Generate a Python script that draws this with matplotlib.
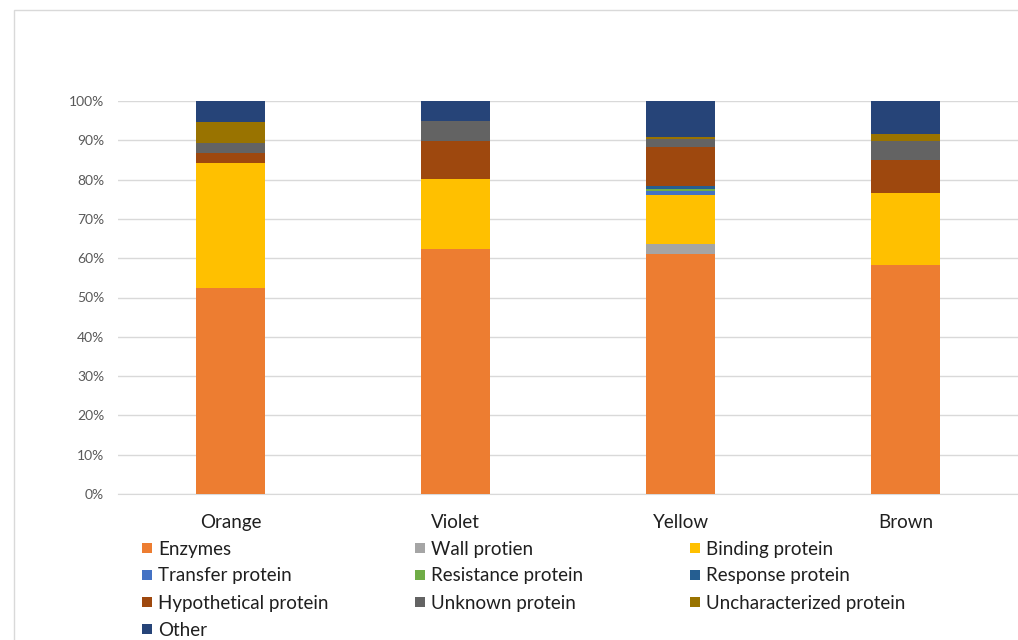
import numpy as np
import matplotlib.pyplot as plt
from matplotlib.patches import Rectangle
from matplotlib.ticker import PercentFormatter

plt.rcParams['font.family'] = ['Lato', 'DejaVu Sans']

# samples on the x axis
samples = ['Orange', 'Violet', 'Yellow', 'Brown']

# share of each protein class per sample (%)
enzymes          = [52.4, 62.3, 61.1, 58.3]
wall_protein     = [0.0, 0.0, 2.5, 0.0]
binding_protein  = [31.8, 17.8, 12.4, 18.2]
transfer_protein = [0.0, 0.0, 1.0, 0.0]
resistance_prot  = [0.0, 0.0, 0.6, 0.0]
response_protein = [0.0, 0.0, 0.8, 0.0]
hypothetical     = [2.5, 9.8, 10.0, 8.4]
unknown_protein  = [2.7, 5.1, 1.9, 5.0]
uncharacterized  = [5.3, 0.0, 0.6, 1.7]
other            = [5.3, 5.0, 9.1, 8.4]

series = [
    ('Enzymes', enzymes, '#ED7D31'),
    ('Wall protien', wall_protein, '#A5A5A5'),
    ('Binding protein', binding_protein, '#FFC000'),
    ('Transfer protein', transfer_protein, '#4472C4'),
    ('Resistance protein', resistance_prot, '#70AD47'),
    ('Response protein', response_protein, '#255E91'),
    ('Hypothetical protein', hypothetical, '#9E480E'),
    ('Unknown protein', unknown_protein, '#636363'),
    ('Uncharacterized protein', uncharacterized, '#997300'),
    ('Other', other, '#264478'),
]

W, H = 1018, 640
fig = plt.figure(figsize=(W / 100, H / 100), dpi=100)
ax = fig.add_axes([118 / W, 146 / H, 900 / W, 393 / H])

x = np.arange(len(samples))
totals = np.sum([s[1] for s in series], axis=0)
bottom = np.zeros(len(samples))
for name, vals, color in series:
    frac = np.array(vals) / totals
    ax.bar(x, frac, 0.311, bottom=bottom, color=color, linewidth=0, zorder=3)
    bottom += frac

ax.set_xlim(-0.5, 3.5)
ax.set_ylim(0, 1.0)
ax.set_yticks(np.arange(0, 1.01, 0.1))
ax.yaxis.set_major_formatter(PercentFormatter(1.0, decimals=0))
ax.set_xticks(x)
ax.set_xticklabels(samples)
ax.tick_params(axis='y', length=0, pad=10, labelsize=10, labelcolor='#595959')
ax.tick_params(axis='x', length=0, pad=14.5, labelsize=13.5, labelcolor='#1f1f1f')
ax.grid(axis='y', color='#D9D9D9', linewidth=1, zorder=0)
for side in ['top', 'right', 'left']:
    ax.spines[side].set_visible(False)
ax.spines['bottom'].set_color('#D9D9D9')

# outer chart frame
fig.add_artist(Rectangle((14 / W, -0.1), 1.2, (H - 10) / H + 0.1,
                         transform=fig.transFigure, fill=False,
                         edgecolor='#D9D9D9', linewidth=1))

# legend laid out row by row in three columns
col_x = [142, 415, 690]
row_y = [548, 575, 602, 629]
for i, (name, vals, color) in enumerate(series):
    cx = col_x[i % 3]
    cy = row_y[i // 3]
    fig.add_artist(Rectangle((cx / W, (H - cy - 5) / H), 10 / W, 10 / H,
                             transform=fig.transFigure, facecolor=color,
                             edgecolor='none'))
    fig.text((cx + 16) / W, (H - cy - 1) / H, name, fontsize=13.5,
             color='#1f1f1f', va='center', ha='left')

fig.savefig('out.png', dpi=100)
